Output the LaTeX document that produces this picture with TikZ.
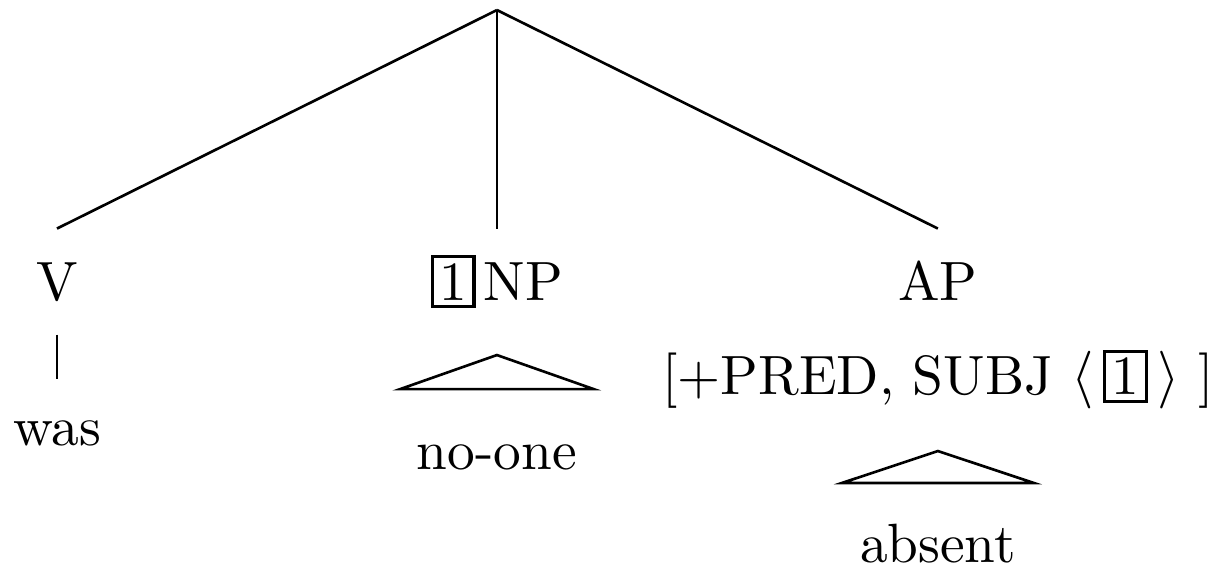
\documentclass[tikz,border=0pt]{standalone}
\usepackage{tikz}
\usetikzlibrary{positioning,calc}

\newcommand{\tagbox}[1]{{\setlength{\fboxsep}{1pt}\setlength{\fboxrule}{0.6pt}\fbox{#1}}}

\begin{document}
\begin{tikzpicture}[line width=0.5pt,
  every node/.style={font=\fontsize{10.5}{12.6}\selectfont},
  cat/.style={anchor=base,inner xsep=0pt,inner ysep=5.3pt,text height=8pt,text depth=1pt},
  word/.style={anchor=base,inner xsep=0pt,inner ysep=5.3pt,text height=7pt,text depth=0pt},
  feat/.style={anchor=base,inner sep=0pt}]
\useasboundingbox (0,0) rectangle (8.087,-3.787);
\coordinate (root) at (3.313,-0.067);
\node[cat] (v)  at (0.38,-2.0)  {V};
\node[cat] (np) at (3.313,-2.0) {\tagbox{1}\kern1.5pt NP};
\node[cat] (ap) at (6.253,-2.0) {AP};
\node[feat] (apf) at (6.253,-2.633) {[+PRED, SUBJ $\langle\,$\tagbox{1}$\,\rangle$ ]};
\node[word] (was)   at (0.38,-2.967)  {was};
\node[word] (noone) at (3.313,-3.133) {no-one};
\node[word] (absent) at (6.253,-3.747) {absent};
\draw (root) -- (v.north);
\draw (root) -- (np.north);
\draw (root) -- (ap.north);
\draw (v.south) -- (was.north);
\coordinate (npapex) at (3.313,-2.367);
\coordinate (apapex) at (6.253,-3.007);
\draw (npapex) -- ++(-0.645,-0.227) -- ++(1.29,0) -- cycle;
\draw (apapex) -- ++(-0.64,-0.213) -- ++(1.28,0) -- cycle;
\end{tikzpicture}
\end{document}
